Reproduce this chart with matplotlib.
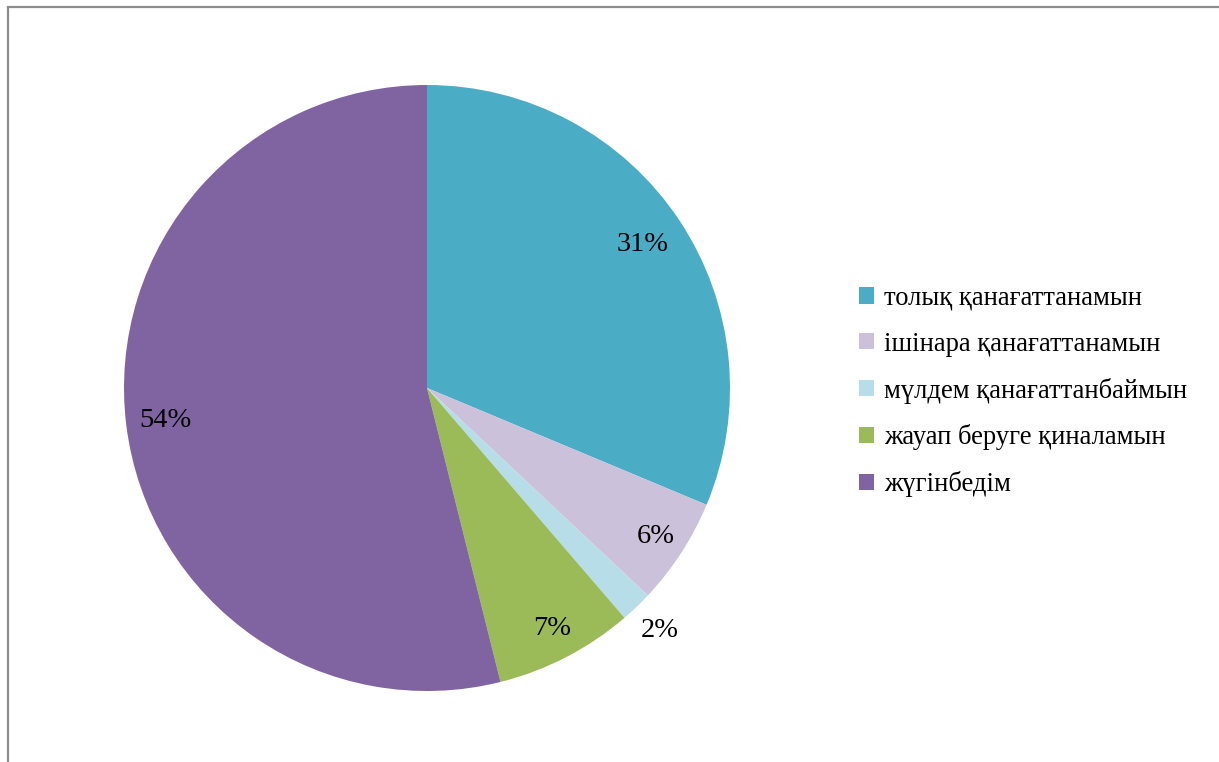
import matplotlib.pyplot as plt
import numpy as np
from matplotlib.patches import Rectangle

# values (angles), labels show rounded percents
categories = ["толық қанағаттанамын", "ішінара қанағаттанамын", "мүлдем қанағаттанбаймын",
              "жауап беруге қиналамын", "жүгінбедім"]
values = [31.3, 5.7, 1.7, 7.4, 53.9]
colors = ["#4BACC6", "#CCC1DA", "#B7DEE8", "#9BBB59", "#8064A2"]
label_dist = [0.855, 0.90, 1.11, 0.895, 0.87]

plt.rcParams['font.family'] = ['Liberation Serif', 'DejaVu Serif']

W, H = 1219, 762
fig = plt.figure(figsize=(W / 100, H / 100), dpi=100)

cx, cy, r = 427, 388, 303
ax = fig.add_axes([(cx - r) / W, (H - cy - r) / H, 2 * r / W, 2 * r / H])
wedges, _ = ax.pie(values, colors=colors, startangle=90, counterclock=False,
                   radius=1, wedgeprops=dict(linewidth=0))
ax.set_xlim(-1, 1)
ax.set_ylim(-1, 1)
ax.set_aspect('equal')
ax.axis('off')

total = sum(values)
for w, v, d in zip(wedges, values, label_dist):
    mid = np.deg2rad((w.theta1 + w.theta2) / 2)
    ax.text(d * np.cos(mid), d * np.sin(mid), f"{round(v / total * 100):d}%",
            ha='center', va='center', fontsize=20.5, color='black')

fig.legend(wedges, categories, loc='upper left', bbox_to_anchor=(859 / W, 1 - 286 / H),
           frameon=False, fontsize=19.2, handlelength=0.56, handleheight=0.56,
           handletextpad=0.38, labelspacing=0.78, borderaxespad=0, borderpad=0)

# outer frame (right and bottom edges fall outside the picture)
fig.add_artist(Rectangle((7.5 / W, -0.1), 1.2, (H - 7) / H + 0.1, transform=fig.transFigure,
                         fill=False, edgecolor='#8c8c8c', linewidth=1.6))

fig.savefig("out.png", dpi=100)
